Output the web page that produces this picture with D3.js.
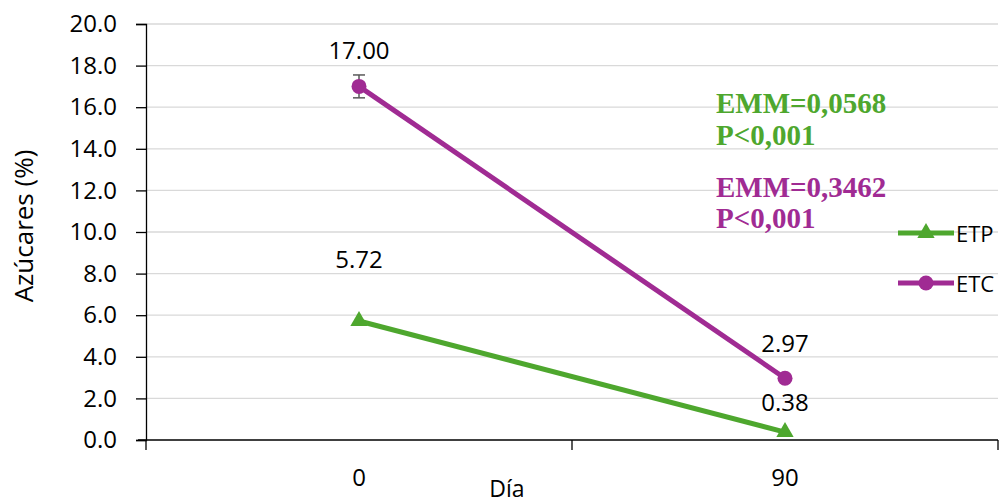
<!DOCTYPE html>
<html>
<head>
<meta charset="utf-8">
<script src="https://cdn.jsdelivr.net/npm/d3@7"></script>
<style>
  body { margin: 0; background: #fff; }
  svg text { font-family: "Open Sans", "Noto Sans", sans-serif; fill: #000; }
</style>
</head>
<body>
<svg id="chart" width="1003" height="503"></svg>
<script>
// data
const days = ["0", "90"];
const etp = [5.72, 0.38];
const etc = [17.00, 2.97];
const etcErr = [0.55, 0];
const yTicks = [0, 2, 4, 6, 8, 10, 12, 14, 16, 18, 20];
const notes = [
  { text: "EMM=0,0568", color: "#4ea72e" },
  { text: "P<0,001", color: "#4ea72e" },
  { text: "EMM=0,3462", color: "#a02b93" },
  { text: "P<0,001", color: "#a02b93" }
];

const green = "#4ea72e", purple = "#a02b93";

let svg = d3.select("#chart");
let mLeft = 146, mRight = 998, mTop = 24, mBottom = 440;

let x = d3.scaleBand().domain(days).range([mLeft, mRight]);
let y = d3.scaleLinear().domain([0, 20]).range([mBottom, mTop]);

// gridlines
svg.append("g")
  .selectAll("line")
  .data(yTicks.slice(1))
  .enter()
  .append("line")
  .attr("x1", mLeft).attr("x2", mRight)
  .attr("y1", d => y(d)).attr("y2", d => y(d))
  .attr("stroke", "#d9d9d9").attr("stroke-width", 1.3);

// y axis
let yAxis = svg.append("g")
  .attr("transform", `translate(${mLeft},0)`)
  .call(d3.axisLeft(y).tickValues(yTicks).tickFormat(d3.format(".1f")).tickSize(10).tickPadding(19));
yAxis.select(".domain").attr("stroke", "#000").attr("stroke-width", 1.3);
yAxis.selectAll(".tick line").attr("stroke", "#000").attr("stroke-width", 1.3);
yAxis.selectAll("text").attr("font-size", 24).attr("fill", "#000")
  .style("font-family", "'Open Sans', sans-serif");

// x axis: ticks at band boundaries
svg.append("line")
  .attr("x1", mLeft - 8).attr("x2", mRight)
  .attr("y1", mBottom).attr("y2", mBottom)
  .attr("stroke", "#000").attr("stroke-width", 1.3);
let bounds = days.map(d => x(d)).concat([x(days[days.length - 1]) + x.bandwidth()]);
svg.append("g").selectAll("line")
  .data(bounds)
  .enter()
  .append("line")
  .attr("x1", d => d).attr("x2", d => d)
  .attr("y1", mBottom).attr("y2", mBottom + 10)
  .attr("stroke", "#000").attr("stroke-width", 1.3);
svg.append("g").selectAll("text")
  .data(days)
  .enter()
  .append("text")
  .attr("x", d => x(d) + x.bandwidth() / 2)
  .attr("y", 486)
  .attr("text-anchor", "middle")
  .attr("font-size", 24)
  .text(d => d);

// axis titles
svg.append("text")
  .attr("transform", "translate(33,226) rotate(-90)")
  .attr("text-anchor", "middle")
  .attr("font-size", 26)
  .text("Azúcares (%)");
svg.append("text")
  .attr("x", 507).attr("y", 497)
  .attr("text-anchor", "middle")
  .attr("font-size", 23)
  .text("Día");

let cx = d => x(d) + x.bandwidth() / 2;
let line = d3.line().x(d => cx(d.day)).y(d => y(d.v));
let etpData = days.map((d, i) => ({ day: d, v: etp[i] }));
let etcData = days.map((d, i) => ({ day: d, v: etc[i], e: etcErr[i] }));

// error bars
let eb = svg.append("g").selectAll("g")
  .data(etcData.filter(d => d.e > 0))
  .enter().append("g");
eb.append("line")
  .attr("x1", d => cx(d.day)).attr("x2", d => cx(d.day))
  .attr("y1", d => y(d.v + d.e)).attr("y2", d => y(d.v - d.e))
  .attr("stroke", "#595959").attr("stroke-width", 1.5);
[1, -1].forEach(s => {
  eb.append("line")
    .attr("x1", d => cx(d.day) - 6).attr("x2", d => cx(d.day) + 6)
    .attr("y1", d => y(d.v + s * d.e)).attr("y2", d => y(d.v + s * d.e))
    .attr("stroke", "#595959").attr("stroke-width", 1.5);
});

// lines
svg.append("path").datum(etcData)
  .attr("d", line).attr("fill", "none")
  .attr("stroke", purple).attr("stroke-width", 5);
svg.append("path").datum(etpData)
  .attr("d", line).attr("fill", "none")
  .attr("stroke", green).attr("stroke-width", 5);

// markers
let tri = d3.symbol().type(d3.symbolTriangle).size(130);
svg.append("g").selectAll("path")
  .data(etpData)
  .enter().append("path")
  .attr("d", tri)
  .attr("transform", d => `translate(${cx(d.day)},${y(d.v)})`)
  .attr("fill", green);
svg.append("g").selectAll("circle")
  .data(etcData)
  .enter().append("circle")
  .attr("cx", d => cx(d.day)).attr("cy", d => y(d.v))
  .attr("r", 7.5).attr("fill", purple);

// data labels
let fmt = d3.format(".2f");
let labelDy = { etc: [-27, -26], etp: [-53, -21] };
svg.append("g").selectAll("text")
  .data(etcData)
  .enter().append("text")
  .attr("x", d => cx(d.day))
  .attr("y", (d, i) => y(d.v) + labelDy.etc[i])
  .attr("text-anchor", "middle").attr("font-size", 24)
  .text(d => fmt(d.v));
svg.append("g").selectAll("text")
  .data(etpData)
  .enter().append("text")
  .attr("x", d => cx(d.day))
  .attr("y", (d, i) => y(d.v) + labelDy.etp[i])
  .attr("text-anchor", "middle").attr("font-size", 24)
  .text(d => fmt(d.v));

// annotations
let noteY = [113, 145, 197, 228];
svg.append("g").selectAll("text")
  .data(notes)
  .enter().append("text")
  .attr("x", 716)
  .attr("y", (d, i) => noteY[i])
  .style("fill", d => d.color)
  .attr("font-size", 29)
  .attr("font-weight", "bold")
  .style("font-family", "'Liberation Serif', 'Times New Roman', serif")
  .text(d => d.text);

// legend
let legend = svg.append("g").selectAll("g")
  .data([{ name: "ETP", color: green, sym: "tri" }, { name: "ETC", color: purple, sym: "circle" }])
  .enter().append("g")
  .attr("transform", (d, i) => `translate(898,${233 + i * 50})`);
legend.append("line")
  .attr("x1", 0).attr("x2", 56)
  .attr("stroke", d => d.color).attr("stroke-width", 5);
legend.each(function(d) {
  let g = d3.select(this);
  if (d.sym === "tri") {
    g.append("path").attr("d", tri).attr("transform", "translate(28,0)").attr("fill", d.color);
  } else {
    g.append("circle").attr("cx", 28).attr("r", 7.5).attr("fill", d.color);
  }
});
legend.append("text")
  .attr("x", 58).attr("y", 9)
  .attr("font-size", 22)
  .text(d => d.name);
</script>
</body>
</html>
